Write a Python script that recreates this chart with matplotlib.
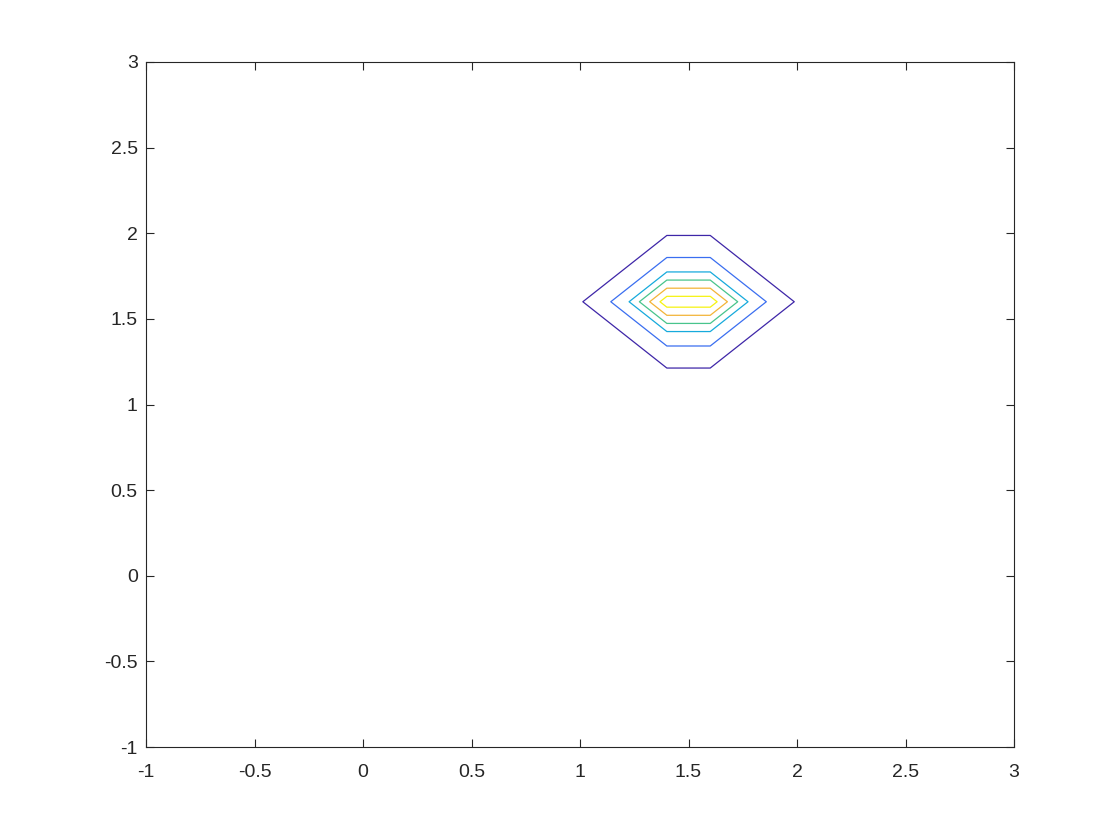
import numpy as np
import matplotlib
matplotlib.use('Agg')
import matplotlib.pyplot as plt

plt.rcParams['font.family'] = ['Liberation Sans', 'DejaVu Sans']
plt.rcParams['axes.unicode_minus'] = False

grid_x = [0.8, 1.0, 1.2, 1.4, 1.6, 1.8, 2.0, 2.2]
grid_y = [1.0, 1.2, 1.4, 1.6, 1.8, 2.0, 2.2]
grid_z = [
    [0.002, 0.007, 0.018, 0.050, 0.050, 0.018, 0.007, 0.002],
    [0.007, 0.018, 0.050, 0.135, 0.135, 0.050, 0.018, 0.007],
    [0.018, 0.050, 0.135, 0.368, 0.368, 0.135, 0.050, 0.018],
    [0.050, 0.135, 0.368, 1.000, 1.000, 0.368, 0.135, 0.050],
    [0.018, 0.050, 0.135, 0.368, 0.368, 0.135, 0.050, 0.018],
    [0.007, 0.018, 0.050, 0.135, 0.135, 0.050, 0.018, 0.007],
    [0.002, 0.007, 0.018, 0.050, 0.050, 0.018, 0.007, 0.002],
]
levels = [0.15, 0.30, 0.45, 0.60, 0.75, 0.90]
level_colors = ['#3e26a8', '#3a6ef0', '#16aadc', '#48c48c', '#f3b437', '#f6f312']

ticks = [-1, -0.5, 0, 0.5, 1, 1.5, 2, 2.5, 3]
tick_labels = ['-1', '-0.5', '0', '0.5', '1', '1.5', '2', '2.5', '3']

fig = plt.figure(figsize=(11.2, 8.4), dpi=100)
ax = fig.add_axes([0.1304, 0.1107, 0.775, 0.8155])

X, Y = np.meshgrid(grid_x, grid_y)
ax.contour(X, Y, np.array(grid_z), levels=levels, colors=level_colors, linewidths=0.9)

ax.set_xlim(-1, 3); ax.set_ylim(-1, 3)
ax.set_xticks(ticks); ax.set_xticklabels(tick_labels)
ax.set_yticks(ticks); ax.set_yticklabels(tick_labels)

dark = '#262626'
for s in ax.spines.values():
    s.set_color(dark); s.set_linewidth(0.8)
ax.tick_params(direction='in', length=6, width=0.8, color=dark, labelcolor=dark,
               labelsize=14, top=True, right=True)
ax.tick_params(axis='x', pad=12)
ax.tick_params(axis='y', pad=6)

fig.savefig('out.png', dpi=100)
